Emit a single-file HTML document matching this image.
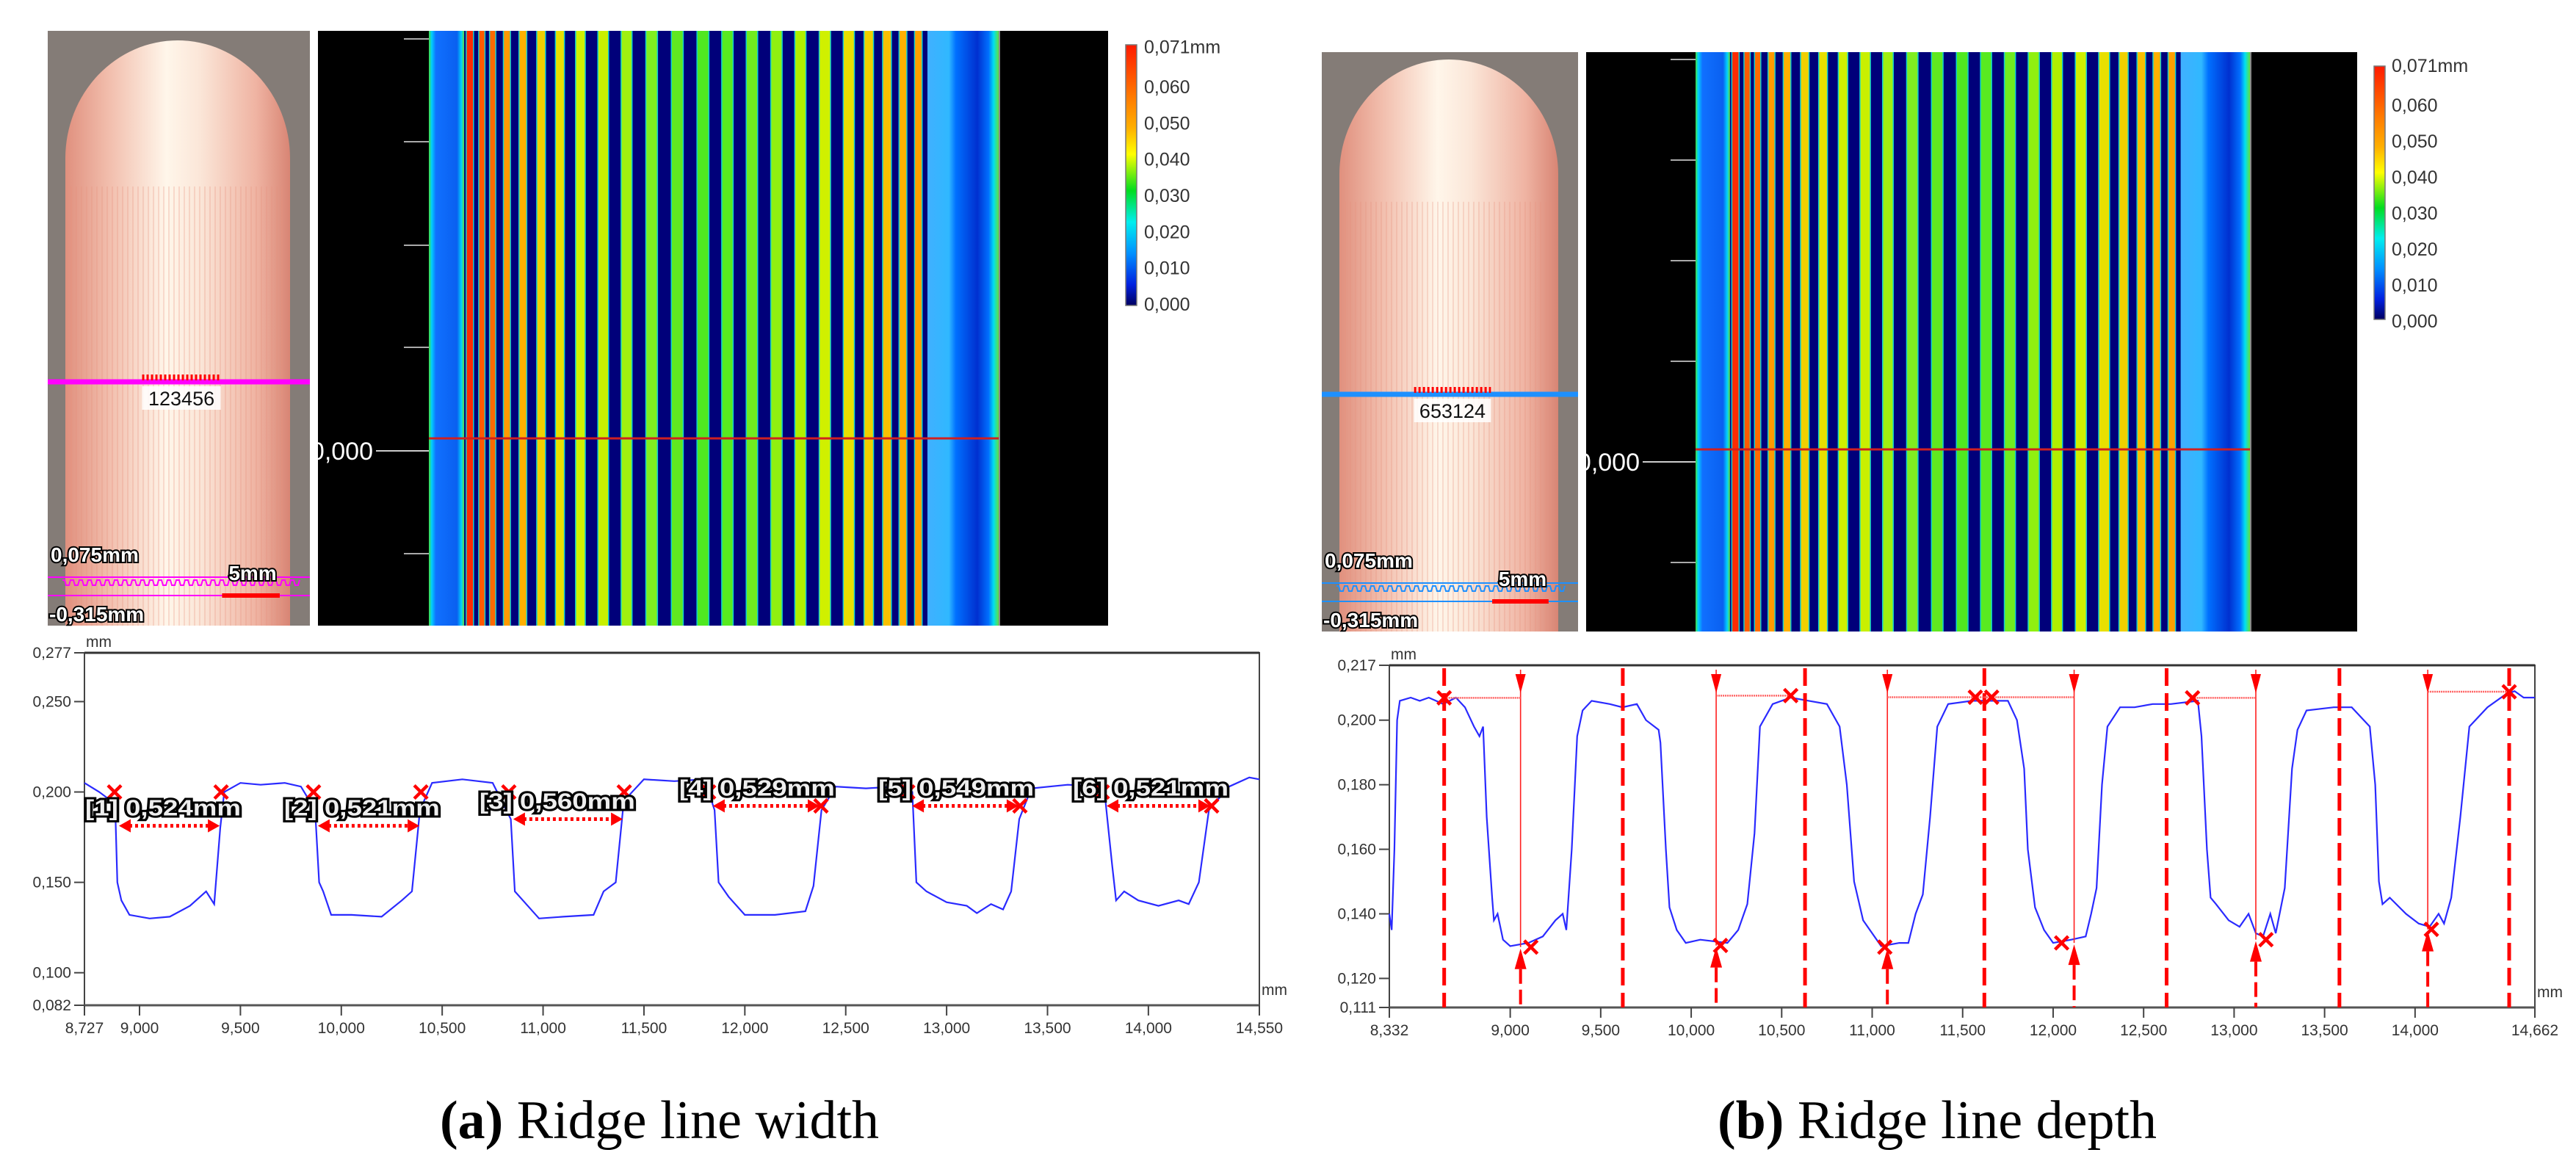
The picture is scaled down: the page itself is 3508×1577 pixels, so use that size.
<!DOCTYPE html>
<html><head><meta charset="utf-8"><style>
html,body{margin:0;padding:0;background:#fff;width:3508px;height:1577px;overflow:hidden}
svg{display:block}
text{font-family:"Liberation Sans",sans-serif}
</style></head><body>
<svg id="fig" xmlns="http://www.w3.org/2000/svg" width="3508" height="1577" viewBox="0 0 3508 1577">
<defs>
<linearGradient id="capsule" x1="0" x2="1" y1="0" y2="0">
<stop offset="0" stop-color="#e0907e"/><stop offset="0.2" stop-color="#f2bfae"/><stop offset="0.45" stop-color="#fff6ea"/><stop offset="0.6" stop-color="#fbe6d8"/><stop offset="0.85" stop-color="#efb3a2"/><stop offset="1" stop-color="#d88574"/>
</linearGradient>
<linearGradient id="cbar" x1="0" x2="0" y1="0" y2="1">
<stop offset="0" stop-color="#ff1a00"/><stop offset="0.2" stop-color="#ff7a00"/><stop offset="0.32" stop-color="#ffb000"/><stop offset="0.42" stop-color="#ffff00"/><stop offset="0.56" stop-color="#00dd20"/><stop offset="0.68" stop-color="#00eeee"/><stop offset="0.8" stop-color="#0090ff"/><stop offset="0.92" stop-color="#0020e0"/><stop offset="1" stop-color="#000060"/>
</linearGradient>
<linearGradient id="bandL" x1="0" x2="1"><stop offset="0" stop-color="#40e040"/><stop offset="0.08" stop-color="#00d0ff"/><stop offset="0.2" stop-color="#1070ff"/><stop offset="0.8" stop-color="#0a60f0"/><stop offset="0.92" stop-color="#00d0ff"/><stop offset="1" stop-color="#60e040"/></linearGradient>
<linearGradient id="bandR" x1="0" x2="1"><stop offset="0" stop-color="#40b0ff"/><stop offset="0.3" stop-color="#30b8ff"/><stop offset="0.4" stop-color="#0070ff"/><stop offset="0.7" stop-color="#0030d0"/><stop offset="0.86" stop-color="#0070ff"/><stop offset="0.93" stop-color="#00e0f0"/><stop offset="1" stop-color="#60e040"/></linearGradient>
<clipPath id="clipHL"><rect x="433" y="42" width="1076" height="810"/></clipPath>
<clipPath id="clipHR"><rect x="2160" y="71" width="1050" height="789"/></clipPath>
</defs>
</svg>
<script>
// ---------- DATA ----------
const leftX = [8.727,8.80,8.86,8.88,8.89,8.91,8.95,9.05,9.15,9.25,9.33,9.37,9.40,9.42,9.50,9.60,9.72,9.80,9.87,9.89,9.91,9.95,10.05,10.20,10.30,10.35,10.39,10.45,10.60,10.75,10.84,10.86,10.90,10.98,11.10,11.25,11.30,11.36,11.40,11.50,11.65,11.80,11.85,11.87,11.92,12.00,12.15,12.30,12.34,12.38,12.45,12.60,12.75,12.83,12.85,12.90,13.00,13.10,13.15,13.22,13.28,13.32,13.36,13.42,13.60,13.78,13.82,13.84,13.88,13.95,14.05,14.15,14.20,14.25,14.30,14.40,14.50,14.55];
const leftY = [0.205,0.200,0.195,0.190,0.150,0.140,0.132,0.130,0.131,0.137,0.145,0.138,0.180,0.200,0.205,0.204,0.205,0.203,0.190,0.150,0.145,0.132,0.132,0.131,0.140,0.145,0.190,0.205,0.207,0.205,0.185,0.145,0.140,0.130,0.131,0.132,0.145,0.150,0.195,0.207,0.206,0.207,0.190,0.150,0.142,0.132,0.132,0.134,0.148,0.190,0.203,0.202,0.203,0.200,0.150,0.145,0.139,0.137,0.133,0.138,0.135,0.145,0.185,0.202,0.204,0.203,0.160,0.140,0.145,0.140,0.137,0.140,0.138,0.150,0.190,0.203,0.208,0.207];
const leftYTicks = [0.277,0.250,0.200,0.150,0.100,0.082];
const leftYTickLabels = ["0,277","0,250","0,200","0,150","0,100","0,082"];
const leftXTicks = [8.727,9.0,9.5,10.0,10.5,11.0,11.5,12.0,12.5,13.0,13.5,14.0,14.55];
const leftXTickLabels = ["8,727","9,000","9,500","10,000","10,500","11,000","11,500","12,000","12,500","13,000","13,500","14,000","14,550"];
const widthLabels = ["[1] 0,524mm","[2] 0,521mm","[3] 0,560mm","[4] 0,529mm","[5] 0,549mm","[6] 0,521mm"];
const grooveStart = [8.898,9.884,10.852,11.842,12.829,13.793];
const grooveWidth = [0.499,0.503,0.543,0.528,0.527,0.513];
const arrowY = [0.1813,0.1813,0.1850,0.1923,0.1923,0.1923];

const rightX = [8.332,8.345,8.36,8.375,8.39,8.45,8.50,8.55,8.63,8.70,8.75,8.80,8.83,8.85,8.87,8.90,8.91,8.93,8.96,9.00,9.10,9.18,9.25,9.29,9.31,9.34,9.37,9.40,9.45,9.55,9.62,9.70,9.75,9.82,9.83,9.86,9.88,9.92,9.97,10.05,10.20,10.26,10.31,10.35,10.38,10.45,10.55,10.65,10.75,10.82,10.86,10.90,10.95,11.05,11.15,11.20,11.24,11.28,11.32,11.36,11.42,11.55,11.65,11.75,11.80,11.84,11.86,11.90,11.95,12.00,12.10,12.18,12.21,12.24,12.27,12.30,12.37,12.45,12.55,12.65,12.80,12.82,12.85,12.87,12.90,12.97,13.03,13.08,13.12,13.16,13.20,13.23,13.28,13.32,13.35,13.40,13.55,13.65,13.75,13.78,13.80,13.82,13.86,13.95,14.02,14.08,14.13,14.16,14.20,14.25,14.30,14.40,14.50,14.55,14.60,14.662];
const rightY = [0.140,0.135,0.160,0.200,0.206,0.207,0.206,0.207,0.205,0.207,0.204,0.198,0.195,0.198,0.170,0.145,0.138,0.140,0.132,0.130,0.131,0.133,0.138,0.140,0.135,0.160,0.195,0.203,0.206,0.205,0.204,0.205,0.200,0.197,0.193,0.160,0.142,0.135,0.131,0.132,0.131,0.135,0.143,0.165,0.198,0.205,0.207,0.206,0.205,0.198,0.180,0.150,0.138,0.130,0.131,0.131,0.140,0.146,0.170,0.198,0.205,0.206,0.206,0.206,0.200,0.185,0.160,0.142,0.135,0.131,0.132,0.133,0.140,0.148,0.180,0.198,0.204,0.204,0.205,0.205,0.206,0.195,0.160,0.145,0.143,0.138,0.136,0.140,0.134,0.133,0.140,0.134,0.148,0.185,0.197,0.203,0.204,0.204,0.198,0.180,0.150,0.143,0.145,0.140,0.137,0.136,0.140,0.137,0.145,0.170,0.198,0.204,0.208,0.209,0.207,0.207];
const rightYTicks = [0.217,0.200,0.180,0.160,0.140,0.120,0.111];
const rightYTickLabels = ["0,217","0,200","0,180","0,160","0,140","0,120","0,111"];
const rightXTicks = [8.332,9.0,9.5,10.0,10.5,11.0,11.5,12.0,12.5,13.0,13.5,14.0,14.662];
const rightXTickLabels = ["8,332","9,000","9,500","10,000","10,500","11,000","11,500","12,000","12,500","13,000","13,500","14,000","14,662"];
const ridgeLines = [8.635,9.622,10.629,11.620,12.627,13.582,14.520];
const depthLines = [9.057,10.138,11.084,12.116,13.120,14.070];
const grooveBottomX = [9.114,10.162,11.070,12.047,13.176,14.090];
const grooveBottomY = [0.1297,0.1302,0.1297,0.1310,0.1320,0.1352];
const ridgeTopX = [8.635,10.55,11.57,11.66,12.77,14.52];
const ridgeTopY = [0.2069,0.2076,0.2071,0.2071,0.2069,0.2088];
const refFrom = [8.635,10.138,11.084,12.77,14.070];
const refTo = [9.057,10.55,12.116,13.120,14.52];
const refY = [0.2069,0.2076,0.2071,0.2069,0.2088];

const stripeFrac = [0.072,0.093,0.112,0.137,0.165,0.197,0.230,0.266,0.306,0.347,0.391,0.436,0.481,0.524,0.567,0.610,0.652,0.695,0.737,0.772,0.804,0.832,0.859];
const stripeColor = ["#ff2a00","#ff5a00","#ff6a00","#ff9a00","#ffb000","#f0d000","#e8e000","#d0f000","#c8f000","#a0f010","#80ee20","#60e820","#50e820","#58ea20","#70ec20","#90f010","#b0f000","#d0f000","#e8e000","#f0d000","#f8c000","#ffb000","#ffa000"];
const cbarValues = [0.071,0.060,0.050,0.040,0.030,0.020,0.010,0.000];
const cbarLabels = ["0,071mm","0,060","0,050","0,040","0,030","0,020","0,010","0,000"];

// ---------- HELPERS ----------
const NS = "http://www.w3.org/2000/svg";
const svg = document.getElementById("fig");
function mk(tag, attrs, parent) {
  const e = document.createElementNS(NS, tag);
  for (const k in attrs) e.setAttribute(k, attrs[k]);
  (parent || svg).appendChild(e);
  return e;
}
function grp(parent) { return mk("g", {}, parent); }

// ---------- PHOTO ----------
function drawPhoto(x0, y0, w, h, capL, capR, domeTop, lineColor, lineY, label, pref) {
  const g = grp();
  
  
  mk("rect", {x:x0, y:y0, width:w, height:h, fill:"#847c77"}, g);
  const cw = capR - capL, r = cw/2;
  mk("path", {d:`M${capL},${y0+h} L${capL},${domeTop+r*1.05} A${r},${r*1.05} 0 0 1 ${capR},${domeTop+r*1.05} L${capR},${y0+h} Z`, fill:"url(#capsule)"}, g);
  for (let xx = capL + 8; xx < capR - 4; xx += 7) {
    mk("line", {x1:xx, y1:domeTop+r*1.3, x2:xx, y2:y0+h, stroke:"#e8927e", "stroke-width":1.5, opacity:0.35}, g);
  }
  const ml = mk("line", {x1:x0, y1:lineY, x2:x0+w, y2:lineY, stroke:lineColor, "stroke-width":7}, g);
  
  
  mk("line", {x1:x0+0.36*w, y1:lineY-6, x2:x0+0.66*w, y2:lineY-6, stroke:"#ff0000", "stroke-width":8, "stroke-dasharray":"3 3"}, g);
  mk("rect", {x:x0+0.36*w, y:lineY+6, width:0.3*w, height:32, fill:"#fff", opacity:0.85}, g);
  const lt = mk("text", {x:x0+0.51*w, y:lineY+32, "font-size":27, fill:"#111", "text-anchor":"middle"}, g);
  lt.textContent = label;
  
  
  const b = y0 + h;
  const t1 = mk("text", {x:x0+4, y:b-87, "font-size":28, "font-weight":"bold", fill:"#fff", stroke:"#000", "stroke-width":4, "paint-order":"stroke"}, g);
  t1.textContent = "0,075mm";
  
  
  mk("line", {x1:x0, y1:b-66, x2:x0+w, y2:b-66, stroke:lineColor, "stroke-width":2}, g);
  let d = `M${x0+20},${b-62}`;
  for (let xx = x0+20; xx < x0+w-20; xx += 12) d += ` L${xx+3},${b-62} L${xx+5},${b-55} L${xx+9},${b-55} L${xx+11},${b-62}`;
  mk("path", {d:d, fill:"none", stroke:lineColor, "stroke-width":2}, g);
  mk("line", {x1:x0, y1:b-41, x2:x0+w, y2:b-41, stroke:lineColor, "stroke-width":2}, g);
  const sb = mk("rect", {x:x0+0.665*w, y:b-44, width:0.22*w, height:6, fill:"#ff0000"}, g);
  
  
  const t2 = mk("text", {x:x0+0.69*w, y:b-62, "font-size":28, "font-weight":"bold", fill:"#fff", stroke:"#000", "stroke-width":4, "paint-order":"stroke"}, g);
  t2.textContent = "5mm";
  
  
  const t3 = mk("text", {x:x0+2, y:b-6, "font-size":28, "font-weight":"bold", fill:"#fff", stroke:"#000", "stroke-width":4, "paint-order":"stroke"}, g);
  t3.textContent = "-0,315mm";
  
  
}
drawPhoto(65, 42, 357, 810, 89, 395, 55, "#ff00ff", 520, "123456", "a");
drawPhoto(1800, 71, 349, 789, 1824, 2122, 81, "#1e90ff", 537, "653124", "b");

// ---------- HEATMAP ----------
function drawHeat(bx, by, bw, bh, fx, fw, clip, ticksY, zeroY, redY, zeroEnd, pref) {
  const g = grp();
  
  
  g.setAttribute("clip-path", "url(#" + clip + ")");
  mk("rect", {x:bx, y:by, width:bw, height:bh, fill:"#000"}, g);
  mk("rect", {x:fx, y:by, width:fw, height:bh, fill:"#00007a"}, g);
  mk("rect", {x:fx, y:by, width:fw*0.062, height:bh, fill:"url(#bandL)"}, g);
  mk("rect", {x:fx+fw*0.875, y:by, width:fw*0.125, height:bh, fill:"url(#bandR)"}, g);
  mk("line", {x1:fx+fw+1, y1:by, x2:fx+fw+1, y2:by+bh, stroke:"#888", "stroke-width":2}, g);
  for (let i = 0; i < stripeFrac.length; i++) {
    const cx = fx + stripeFrac[i]*fw;
    const sp = i > 0 ? (stripeFrac[i]-stripeFrac[i-1])*fw : 20;
    const sw = Math.max(7, Math.min(15, sp*0.42));
    const s = mk("rect", {x:cx-sw/2-1.5, y:by, width:sw+3, height:bh, fill:"#10d0d0"}, g);
    
    
    mk("rect", {x:cx-sw/2, y:by, width:sw, height:bh, fill:stripeColor[i]}, g);
  }
  ticksY.forEach(ty => mk("line", {x1:fx-34, y1:ty, x2:fx, y2:ty, stroke:"#aaa", "stroke-width":2}, g));
  const zt = mk("text", {x:zeroEnd, y:zeroY+12, "font-size":34, fill:"#fff", "text-anchor":"end"}, g);
  zt.textContent = "0,000";
  
  
  mk("line", {x1:zeroEnd+4, y1:zeroY, x2:fx, y2:zeroY, stroke:"#ccc", "stroke-width":2}, g);
  const rl = mk("line", {x1:fx, y1:redY, x2:fx+fw, y2:redY, stroke:"#d02020", "stroke-width":3}, g);
  
  
}
drawHeat(433, 42, 1076, 810, 584, 776, "clipHL", [53,193,334,473,754], 614, 597, 508, "a");
drawHeat(2160, 71, 1050, 789, 2309, 755, "clipHR", [81,218,355,492,766], 629, 612, 2233, "b");

// ---------- COLORBAR ----------
function drawCbar(x, y0, y1, lx, b0, b60, pref) {
  const g = grp();
  
  
  mk("rect", {x:x, y:y0, width:15, height:y1-y0, fill:"url(#cbar)", stroke:"#777", "stroke-width":1.5}, g);
  const per = (b0 - b60) / 0.060;
  cbarValues.forEach((v, i) => {
    const t = mk("text", {x:lx, y:b0 - v*per, "font-size":25, fill:"#333"}, g);
    t.textContent = cbarLabels[i];
    
    
  });
}
drawCbar(1533, 61, 416, 1558, 423, 127, "a");
drawCbar(3233, 90, 435, 3257, 446, 152, "b");

// ---------- PROFILE CHARTS ----------
function axes(px0, px1, py0, py1, xmin, xmax, ymin, ymax) {
  return {
    x: v => px0 + (v - xmin) / (xmax - xmin) * (px1 - px0),
    y: v => py1 - (v - ymin) / (ymax - ymin) * (py1 - py0)
  };
}
function drawFrame(g, A, px0, px1, py0, py1, yt, ytl, xt, xtl, pref) {
  mk("rect", {x:px0, y:py0, width:px1-px0, height:py1-py0, fill:"#fff", stroke:"#444", "stroke-width":2}, g);
  mk("line", {x1:px0, y1:py1, x2:px1, y2:py1, stroke:"#555", "stroke-width":3}, g);
  mk("line", {x1:px0, y1:py0, x2:px1, y2:py0, stroke:"#333", "stroke-width":3}, g);
  yt.forEach((v, i) => {
    const yy = A.y(v);
    mk("line", {x1:px0-14, y1:yy, x2:px0, y2:yy, stroke:"#444", "stroke-width":2}, g);
    const t = mk("text", {x:px0-18, y:yy+7, "font-size":21, fill:"#333", "text-anchor":"end"}, g);
    t.textContent = ytl[i];
    
    
  });
  xt.forEach((v, i) => {
    const xx = A.x(v);
    mk("line", {x1:xx, y1:py1, x2:xx, y2:py1+14, stroke:"#444", "stroke-width":2}, g);
    const t = mk("text", {x:xx, y:py1+38, "font-size":21, fill:"#333", "text-anchor":"middle"}, g);
    t.textContent = xtl[i];
    
    
  });
  const u1 = mk("text", {x:px0+2, y:py0-8, "font-size":21, fill:"#333"}, g);
  u1.textContent = "mm";
  
  
  const u2 = mk("text", {x:px1+3, y:py1-14, "font-size":21, fill:"#333"}, g);
  u2.textContent = "mm";
  
  
}
function drawLine(g, A, xs, ys, pref) {
  let d = "";
  xs.forEach((v, i) => { d += (i ? " L" : "M") + A.x(v).toFixed(1) + "," + A.y(ys[i]).toFixed(1); });
  const p = mk("path", {d:d, fill:"none", stroke:"#2a2aff", "stroke-width":2.2}, g);
  
  
}
function xMark(g, cx, cy, s) {
  const m = mk("path", {d:`M${cx-s},${cy-s} L${cx+s},${cy+s} M${cx+s},${cy-s} L${cx-s},${cy+s}`, stroke:"#ff0000", "stroke-width":4.5, fill:"none"}, g);
  
  
}

// left chart
(function(){
  const g = grp();
  
  
  const A = axes(115, 1715, 889, 1369, 8.727, 14.55, 0.082, 0.277);
  drawFrame(g, A, 115, 1715, 889, 1369, leftYTicks, leftYTickLabels, leftXTicks, leftXTickLabels, "a");
  drawLine(g, A, leftX, leftY, "a");
  grooveStart.forEach((s, i) => {
    const x1 = A.x(s), x2 = A.x(s + grooveWidth[i]), yy = A.y(arrowY[i]);
    const ar = mk("line", {x1:x1+14, y1:yy, x2:x2-14, y2:yy, stroke:"#ff0000", "stroke-width":5, "stroke-dasharray":"4 4"}, g);
    
    
    mk("polygon", {points:`${x1},${yy} ${x1+16},${yy-9} ${x1+16},${yy+9}`, fill:"#ff0000"}, g);
    mk("polygon", {points:`${x2},${yy} ${x2-16},${yy-9} ${x2-16},${yy+9}`, fill:"#ff0000"}, g);
    const my = i < 3 ? A.y(0.200) : yy;
    xMark(g, x1 - 6, i < 3 ? my : A.y(0.200), 9);
    xMark(g, x2 + 2, my, 9);
    const t = mk("text", {x:x1-46, y:yy-14, "font-size":31, "font-weight":"bold", fill:"#eee", stroke:"#000", "stroke-width":6, "paint-order":"stroke", textLength:212, lengthAdjust:"spacingAndGlyphs"}, g);
    t.textContent = widthLabels[i];
    
    
  });
})();

// right chart
(function(){
  const g = grp();
  
  
  const A = axes(1892, 3452, 906, 1372, 8.332, 14.662, 0.111, 0.217);
  drawFrame(g, A, 1892, 3452, 906, 1372, rightYTicks, rightYTickLabels, rightXTicks, rightXTickLabels, "b");
  drawLine(g, A, rightX, rightY, "b");
  ridgeLines.forEach(v => {
    const l = mk("line", {x1:A.x(v), y1:910, x2:A.x(v), y2:1372, stroke:"#ff0000", "stroke-width":5, "stroke-dasharray":"24 10"}, g);
    
    
  });
  depthLines.forEach((v, i) => {
    const xx = A.x(v), yb = A.y(grooveBottomY[i]);
    const l = mk("line", {x1:xx, y1:912, x2:xx, y2:yb, stroke:"#ff2020", "stroke-width":1.6}, g);
    
    
    mk("polygon", {points:`${xx-7},${918} ${xx+7},${918} ${xx},${944}`, fill:"#ff0000"}, g);
    mk("polygon", {points:`${xx-8},${yb+30} ${xx+8},${yb+30} ${xx},${yb+2}`, fill:"#ff0000"}, g);
    mk("line", {x1:xx, y1:yb+30, x2:xx, y2:1372, stroke:"#ff0000", "stroke-width":4, "stroke-dasharray":"20 8"}, g);
    xMark(g, A.x(grooveBottomX[i]), yb, 9);
  });
  refFrom.forEach((v, i) => {
    const l = mk("line", {x1:A.x(v), y1:A.y(refY[i]), x2:A.x(refTo[i]), y2:A.y(refY[i]), stroke:"#ff6060", "stroke-width":2.5, "stroke-dasharray":"2 1"}, g);
    
    
  });
  ridgeTopX.forEach((v, i) => xMark(g, A.x(v), A.y(ridgeTopY[i]), 9));
})();

// ---------- CAPTIONS ----------
function caption(cx, bold, rest, name) {
  const t = mk("text", {x:cx, y:1550, "font-size":74, "text-anchor":"middle", fill:"#000", style:'font-family:"Liberation Serif",serif'});
  const b = mk("tspan", {"font-weight":"bold"}, t);
  b.textContent = bold;
  const r = mk("tspan", {}, t);
  r.textContent = rest;
  
  
}
caption(898, "(a)", " Ridge line width", "caption-a");
caption(2638, "(b)", " Ridge line depth", "caption-b");
</script>
</body></html>
